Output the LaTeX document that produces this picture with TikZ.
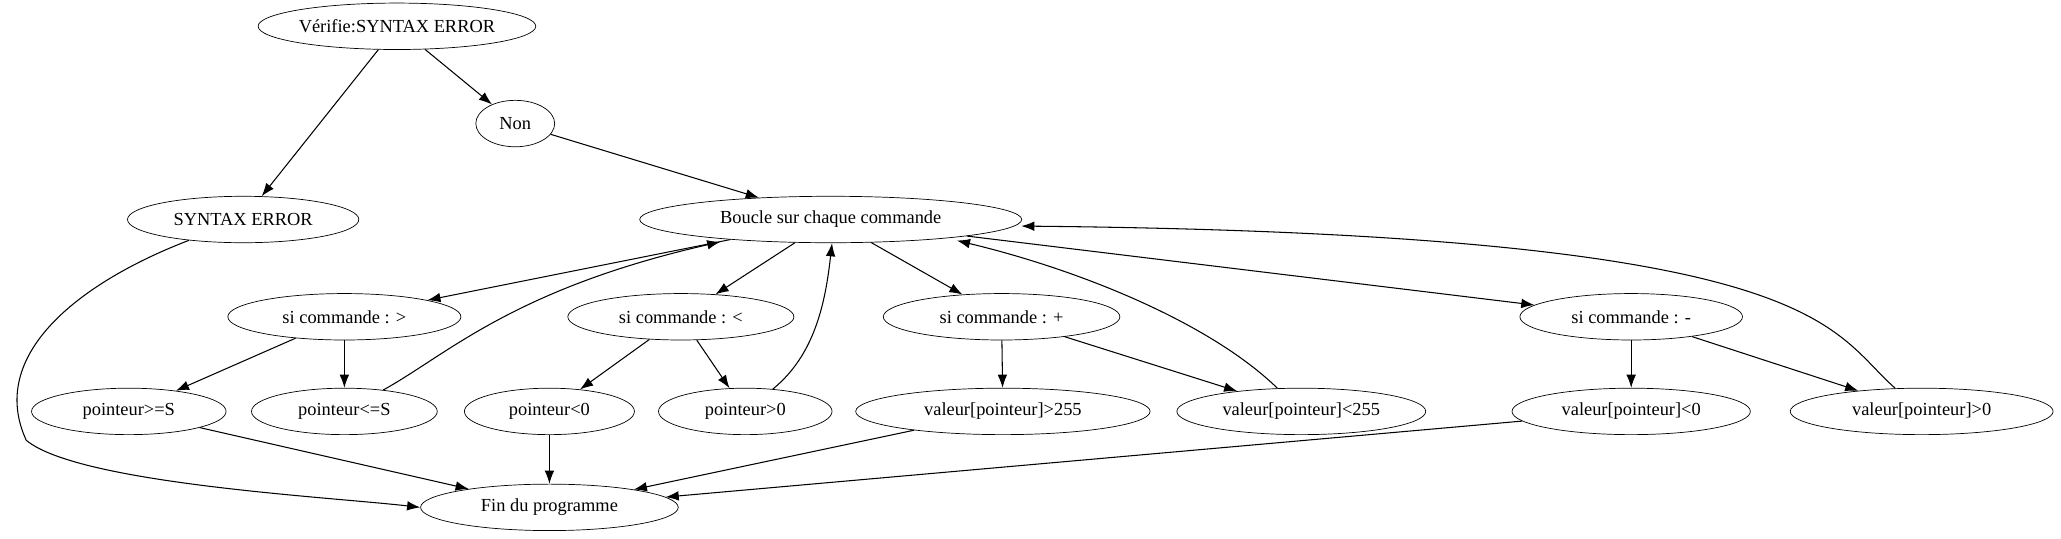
\documentclass[tikz,border=0pt]{standalone}
\usepackage{fontspec}
\setmainfont{Liberation Serif}
\usetikzlibrary{shapes.geometric,arrows.meta}
\tikzset{
  etat/.style={draw, ellipse, inner sep=0pt, minimum height=26.5pt, font=\fontsize{10.5}{12}\selectfont},
  fleche/.style={-{Latex[length=7.5pt,width=5.5pt]}, line width=0.6pt},
}
\begin{document}
\begin{tikzpicture}[x=0.75pt,y=0.75pt,yscale=-1,xscale=1]
\useasboundingbox (0,0) rectangle (1568,410);

% Noeuds
\node [etat, minimum width=157pt] (verif) at (302,20) {Vérifie:SYNTAX ERROR};
\node [etat, minimum width=45pt] (non) at (392,94) {Non};
\node [etat, minimum width=132pt] (syntax) at (185,167) {SYNTAX ERROR};
\node [etat, minimum width=218pt] (boucle) at (632,167) {Boucle sur chaque commande};
\node [etat, minimum width=133pt] (sisup) at (262,241) {si commande : >};
\node [etat, minimum width=129pt] (siinf) at (518,241) {si commande : <};
\node [etat, minimum width=135pt] (siplus) at (762,241) {si commande : +};
\node [etat, minimum width=127pt] (simoins) at (1241,241) {si commande : -};
\node [etat, minimum width=111pt] (pgeS) at (98,313) {pointeur>=S};
\node [etat, minimum width=106pt] (pleS) at (262,313) {pointeur<=S};
\node [etat, minimum width=97pt] (pneg) at (418,313) {pointeur<0};
\node [etat, minimum width=99pt] (ppos) at (567,313) {pointeur>0};
\node [etat, minimum width=168pt] (vsup) at (763,313) {valeur[pointeur]>255};
\node [etat, minimum width=142pt] (vinf) at (990,313) {valeur[pointeur]<255};
\node [etat, minimum width=136pt] (vneg) at (1241,313) {valeur[pointeur]<0};
\node [etat, minimum width=150pt] (vpos) at (1462,313) {valeur[pointeur]>0};
\node [etat, minimum width=147pt] (fin) at (418,386) {Fin du programme};

% Aretes
\draw [fleche] (verif) -- (syntax);
\draw [fleche] (verif) -- (non);
\draw [fleche] (non) -- (boucle);
\draw [fleche] (syntax) .. controls (60,215) and (-10,270) .. (20,335) .. controls (60,368) and (250,378) .. (fin.west);
\draw [fleche] (boucle) -- (sisup);
\draw [fleche] (boucle) -- (siinf);
\draw [fleche] (boucle) -- (siplus);
\draw [fleche] (boucle) -- (simoins);
\draw [fleche] (sisup) -- (pgeS);
\draw [fleche] (sisup) -- (pleS);
\draw [fleche] (pleS) .. controls (340,270) and (390,220) .. (548,184);
\draw [fleche] (siinf) -- (pneg);
\draw [fleche] (siinf) -- (ppos);
\draw [fleche] (ppos) .. controls (620,270) and (628,230) .. (633,185);
\draw [fleche] (siplus) -- (vsup);
\draw [fleche] (siplus) -- (vinf);
\draw [fleche] (vinf) .. controls (920,245) and (820,205) .. (728,183);
\draw [fleche] (simoins) -- (vneg);
\draw [fleche] (simoins) -- (vpos);
\draw [fleche] (vpos) .. controls (1390,250) and (1390,178) .. (777,172);
\draw [fleche] (pgeS) -- (fin);
\draw [fleche] (pneg) -- (fin);
\draw [fleche] (vsup) -- (fin);
\draw [fleche] (vneg) -- (fin);
\end{tikzpicture}
\end{document}
